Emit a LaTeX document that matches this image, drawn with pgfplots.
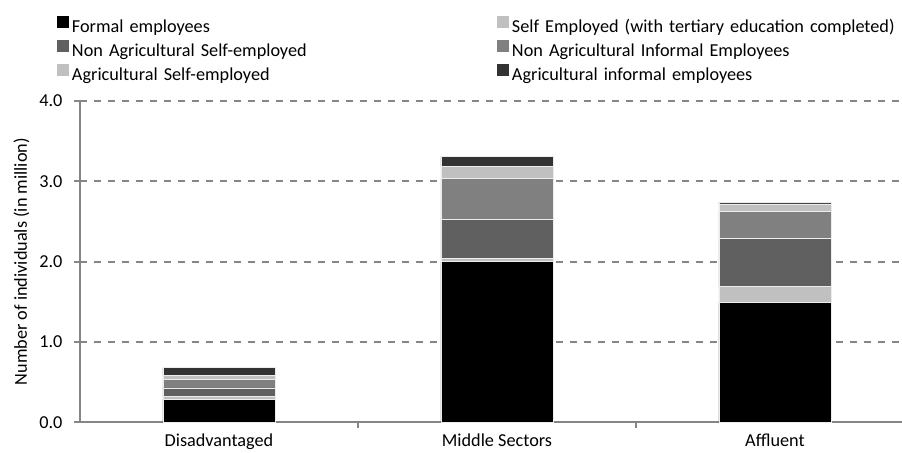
\documentclass[border=0pt]{standalone}
\usepackage{pgfplots}
\pgfplotsset{compat=1.18}
\usepackage{fontspec}
\setmainfont{Carlito}
\definecolor{axgray}{HTML}{868686}
\definecolor{cFormal}{HTML}{000000}
\definecolor{cTert}{HTML}{C0C0C0}
\definecolor{cNAS}{HTML}{606060}
\definecolor{cNAI}{HTML}{808080}
\definecolor{cAS}{HTML}{C0C0C0}
\definecolor{cAI}{HTML}{333333}
\pgfplotsset{
  sqleg/.style={legend image code/.code={\fill[##1,draw=none] (0bp,0bp) rectangle (12bp,12bp);}},
  segstyle/.style={fill=#1, draw=white!85!gray, line width=0.5bp, sqleg},
}
\begin{document}
\begin{tikzpicture}[font=\fontsize{18.3}{22}\selectfont]
\begin{axis}[
  at={(0,0)}, anchor=south west,
  scale only axis, width=822bp, height=321.3bp,
  xmin=-0.5, xmax=2.457, ymin=0, ymax=4,
  ybar stacked, bar width=112bp,
  axis lines*=left,
  axis line style={draw=axgray, line width=2bp},
  ytick={0,1,2,3,4},
  yticklabel={\pgfmathprintnumber[fixed,fixed zerofill,precision=1,assume math mode=true]{\tick}},
  yticklabel style={xshift=-8bp},
  ymajorgrids,
  grid style={draw=axgray, line width=2bp, dash pattern=on 7bp off 7bp},
  tick align=outside, major tick length=6bp,
  tick style={draw=axgray, line width=2bp},
  xtick={0.5,1.5}, xticklabels={},
  extra x ticks={0,1,2},
  extra x tick labels={Disadvantaged, Middle Sectors, Affluent},
  extra x tick style={major tick length=0pt, grid=none, xticklabel style={yshift=-8bp}},
  ylabel={Number of individuals (in million)},
  ylabel style={at={(axis description cs:-0.0712,0.5)}, anchor=center},
  legend columns=2,
  legend cell align=left,
  legend style={draw=none, fill=none, at={(-0.02798,1.2645)}, anchor=north west,
    inner sep=0pt, outer sep=0pt, row sep=3.5bp,
    nodes={inner sep=0pt, text width=425bp, align=left, text height=13bp, text depth=4bp},
    /tikz/every odd column/.style={column sep=3bp}},
]
\addplot[segstyle=cFormal] coordinates {(0,0.29) (1,2.00) (2,1.49)};
\addlegendentry{Formal employees}
\addplot[segstyle=cTert] coordinates {(0,0.03) (1,0.04) (2,0.20)};
\addlegendentry{Self Employed (with tertiary education completed)}
\addplot[segstyle=cNAS] coordinates {(0,0.11) (1,0.49) (2,0.60)};
\addlegendentry{Non Agricultural Self-employed}
\addplot[segstyle=cNAI] coordinates {(0,0.10) (1,0.51) (2,0.34)};
\addlegendentry{Non Agricultural Informal Employees}
\addplot[segstyle=cAS] coordinates {(0,0.05) (1,0.15) (2,0.09)};
\addlegendentry{Agricultural Self-employed}
\addplot[segstyle=cAI] coordinates {(0,0.10) (1,0.12) (2,0.02)};
\addlegendentry{Agricultural informal employees}
\end{axis}
\pgfresetboundingbox
\useasboundingbox (-80bp,-30.7bp) rectangle (822bp,422.3bp);
\end{tikzpicture}
\end{document}
